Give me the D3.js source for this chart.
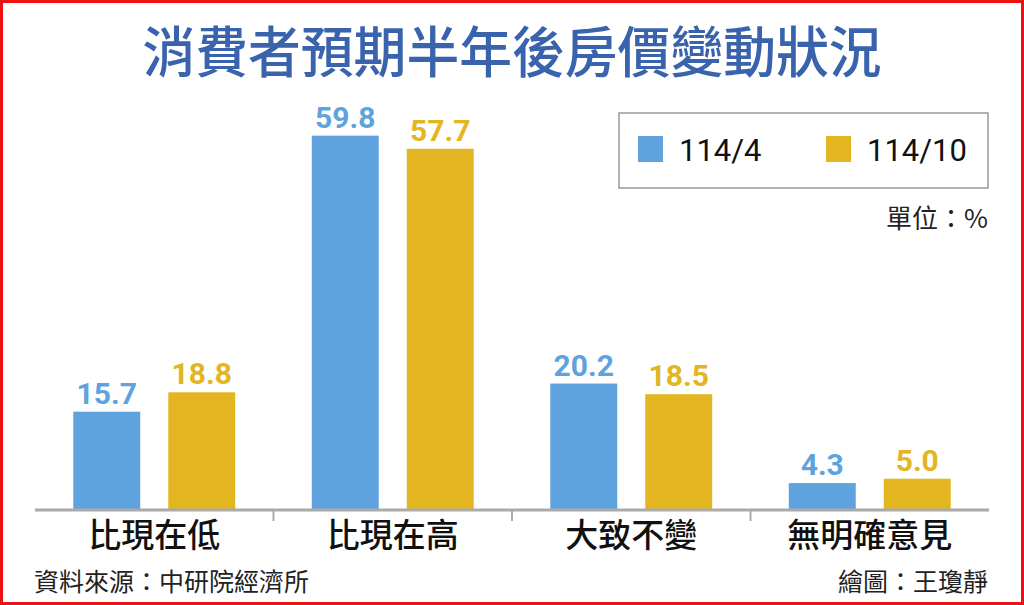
<!DOCTYPE html>
<html>
<head>
<meta charset="utf-8">
<script src="https://cdn.jsdelivr.net/npm/d3@7/dist/d3.min.js"></script>
<style>
  body { margin: 0; background: #fff; }
  svg { display: block; }
</style>
</head>
<body>
<div id="chart"></div>
<script>
var width = 1024;
var height = 605;

// data
var categories = ["比現在低", "比現在高", "大致不變", "無明確意見"];
var seriesNames = ["114/4", "114/10"];
var valuesApr = [15.7, 59.8, 20.2, 4.3];
var valuesOct = [18.8, 57.7, 18.5, 5.0];
var seriesColors = ["#5fa3de", "#e2b521"];

var cjk = "'Noto Sans CJK TC', 'Noto Sans CJK SC', sans-serif";
var num = "Roboto, 'Open Sans', sans-serif";

var rows = categories.map(function (c, i) {
  return { cat: c, vals: [valuesApr[i], valuesOct[i]] };
});

var svg = d3.select("#chart")
  .append("svg")
  .attr("width", width)
  .attr("height", height);

svg.append("rect")
  .attr("x", 0).attr("y", 0)
  .attr("width", width).attr("height", height)
  .attr("fill", "#fff");

// title
svg.append("text")
  .attr("x", 512)
  .attr("y", 48)
  .attr("text-anchor", "middle")
  .attr("dominant-baseline", "central")
  .attr("transform", "translate(512,0) scale(0.96,1) translate(-512,0)")
  .style("font-family", cjk)
  .style("font-size", "55px")
  .style("font-weight", "500")
  .attr("fill", "#3a63ad")
  .text("消費者預期半年後房價變動狀況");

// scales
var x0 = d3.scaleBand().domain(categories).range([35, 989]);
var x1 = d3.scaleBand().domain(seriesNames).range([0, x0.bandwidth()])
  .paddingInner(0.295).paddingOuter(0.403);
var yScale = d3.scaleLinear().domain([0, 60]).range([510, 134.4]);

// bars
var groups = svg.selectAll("g.grp")
  .data(rows)
  .enter()
  .append("g")
  .attr("class", "grp")
  .attr("transform", function (d) { return "translate(" + x0(d.cat) + ",0)"; });

groups.selectAll("rect")
  .data(function (d) { return d.vals.map(function (v, i) { return { s: seriesNames[i], v: v, i: i }; }); })
  .enter()
  .append("rect")
  .attr("x", function (d) { return x1(d.s); })
  .attr("y", function (d) { return yScale(d.v); })
  .attr("width", x1.bandwidth())
  .attr("height", function (d) { return yScale(0) - yScale(d.v); })
  .attr("fill", function (d) { return seriesColors[d.i]; });

groups.selectAll("text.val")
  .data(function (d) { return d.vals.map(function (v, i) { return { s: seriesNames[i], v: v, i: i }; }); })
  .enter()
  .append("text")
  .attr("class", "val")
  .attr("x", function (d) { return x1(d.s) + x1.bandwidth() / 2; })
  .attr("y", function (d) { return yScale(d.v) - 8; })
  .attr("text-anchor", "middle")
  .style("font-family", num)
  .style("font-size", "30px")
  .style("font-weight", "700")
  .attr("fill", function (d) { return seriesColors[d.i]; })
  .text(function (d) { return d.v.toFixed(1); });

// category axis
var xAxis = d3.axisBottom(x0).tickSize(0).tickPadding(14);
var axisG = svg.append("g")
  .attr("transform", "translate(0,510)")
  .call(xAxis);
axisG.select(".domain").remove();
axisG.selectAll("text")
  .style("font-family", cjk)
  .style("font-size", "33px")
  .style("font-weight", "500")
  .attr("fill", "#111");

svg.append("line")
  .attr("x1", 35).attr("x2", 989)
  .attr("y1", 510).attr("y2", 510)
  .attr("stroke", "#aaaaaa")
  .attr("stroke-width", 3);

svg.selectAll("line.sep")
  .data(categories.slice(1))
  .enter()
  .append("line")
  .attr("class", "sep")
  .attr("x1", function (d) { return x0(d); })
  .attr("x2", function (d) { return x0(d); })
  .attr("y1", 510).attr("y2", 521)
  .attr("stroke", "#aaaaaa")
  .attr("stroke-width", 2);

// legend
svg.append("rect")
  .attr("x", 619).attr("y", 113)
  .attr("width", 369).attr("height", 75)
  .attr("fill", "none")
  .attr("stroke", "#999")
  .attr("stroke-width", 1.5);

var legendX = [638, 826];
var legend = svg.selectAll("g.leg")
  .data(seriesNames)
  .enter()
  .append("g")
  .attr("class", "leg")
  .attr("transform", function (d, i) { return "translate(" + legendX[i] + ",136)"; });

legend.append("rect")
  .attr("width", 25).attr("height", 26)
  .attr("fill", function (d, i) { return seriesColors[i]; });

legend.append("text")
  .attr("x", 41)
  .attr("y", 25)
  .style("font-family", num)
  .style("font-size", "31px")
  .attr("fill", "#111")
  .text(function (d) { return d; });

// unit
svg.append("text")
  .attr("x", 988)
  .attr("y", 228)
  .attr("text-anchor", "end")
  .style("font-family", cjk)
  .style("font-size", "26px")
  .attr("fill", "#222")
  .text("單位：%");

// footer
svg.append("text")
  .attr("x", 34)
  .attr("y", 591)
  .style("font-family", cjk)
  .style("font-size", "25px")
  .attr("fill", "#222")
  .text("資料來源：中研院經濟所");

svg.append("text")
  .attr("x", 988)
  .attr("y", 591)
  .attr("text-anchor", "end")
  .style("font-family", cjk)
  .style("font-size", "25px")
  .attr("fill", "#222")
  .text("繪圖：王瓊靜");

// red frame
svg.append("rect")
  .attr("x", 1.5).attr("y", 1.5)
  .attr("width", width - 3).attr("height", height - 3)
  .attr("fill", "none")
  .attr("stroke", "#ee1111")
  .attr("stroke-width", 3);
</script>
</body>
</html>
